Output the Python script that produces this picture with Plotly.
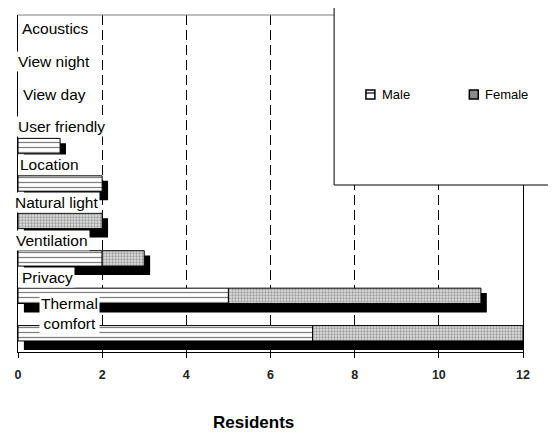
import plotly.graph_objects as go

# ---- data ----
categories = ["Thermal comfort", "Privacy", "Ventilation", "Natural light",
              "Location", "User friendly", "View day", "View night", "Acoustics"]
male = [7, 5, 2, 0, 2, 1, 0, 0, 0]
female = [5, 6, 1, 2, 0, 0, 0, 0, 0]
series_names = ["Male", "Female"]
x_ticks = [0, 2, 4, 6, 8, 10, 12]
axis_title = "Residents"

# ---- layout constants (page pixel coordinates; the page body has an 8px margin) ----
OFF = 8
W, H = 556 - OFF, 432 - OFF
PLOT_L, PLOT_R, PLOT_T, PLOT_B = 15, 523, 15, 352
L, T = PLOT_L - OFF, PLOT_T - OFF
R = W - (PLOT_R - OFF)
B = H - (PLOT_B - OFF)
PW, PH = PLOT_R - PLOT_L, PLOT_B - PLOT_T
FONT = "Liberation Sans, Arial, sans-serif"
BAR_W = 0.41
SH_TOP_GAP = 0.13   # shadow top sits this far below the bar top
SH_BOT_EXT = 0.24   # shadow bottom extends this far below the bar bottom
SH_DX = 0.14


def px2x(px):
    return (px - PLOT_L) / PW


def px2y(py):
    return (PLOT_B - py) / PH


pos = list(range(len(categories)))
totals = [m + f for m, f in zip(male, female)]


def nz(vals):
    return [v if v else None for v in vals]


sh_w = BAR_W - SH_TOP_GAP + SH_BOT_EXT
fig = go.Figure()
fig.add_trace(go.Bar(
    y=pos, x=nz(totals), base=SH_DX, orientation="h", width=sh_w,
    offset=-BAR_W / 2 - SH_BOT_EXT, marker=dict(color="black", line=dict(width=0)),
    showlegend=False, hoverinfo="skip", cliponaxis=False))
fig.add_trace(go.Bar(
    y=pos, x=nz(male), base=0, orientation="h", width=BAR_W, name=series_names[0],
    marker=dict(color="white", line=dict(color="black", width=1),
                pattern=dict(shape="-", size=5, solidity=0.25,
                             fgcolor="black", bgcolor="white")),
    showlegend=False, cliponaxis=False))
fig.add_trace(go.Bar(
    y=pos, x=nz(female), base=male, orientation="h", width=BAR_W, name=series_names[1],
    marker=dict(color="#d0d0d0", line=dict(color="black", width=1),
                pattern=dict(shape=".", size=3, solidity=0.45,
                             fgcolor="#555555", bgcolor="#dedede")),
    showlegend=False, cliponaxis=False))

# category labels (text placed above each bar, as in the reference)
label_y = [0.54, 1.503, 2.49, 3.506, 4.495, 5.51, 6.364, 7.246, 8.127]
label_left = [38, 19, 13, 12, 17, 15, 20, 15, 19]
annotations = []
for cat, ly, lx in zip(categories, label_y, label_left):
    txt = cat.replace(" ", "<br>") if cat == "Thermal comfort" else cat
    annotations.append(dict(
        text=txt, xref="paper", x=0, xshift=lx - PLOT_L - 2, xanchor="left",
        yref="y", y=ly, yanchor="middle", showarrow=False,
        bgcolor="white", borderpad=1,
        font=dict(family=FONT, size=15.5, color="black")))

# axis title
annotations.append(dict(
    text=axis_title, xref="paper", yref="paper", x=px2x(252), y=px2y(422),
    xanchor="center", yanchor="middle", showarrow=False,
    font=dict(family=FONT, size=17, color="black", weight="bold")))

shapes = [
    dict(type="line", xref="paper", yref="paper", x0=0, x1=1, y0=1, y1=1,
         line=dict(color="#7f7f7f", width=1)),
    dict(type="rect", xref="paper", yref="paper", x0=px2x(333), x1=px2x(600),
         y0=px2y(185), y1=px2y(7), line=dict(color="black", width=1),
         fillcolor="white", layer="above"),
]

# manual legend
icon_left = [365, 469]
text_left = [379, 483]
icon_fill = ["white", "#8c8c8c"]
for name, il, tl, fc in zip(series_names, icon_left, text_left, icon_fill):
    shapes.append(dict(type="rect", xref="paper", yref="paper",
                       x0=px2x(il), x1=px2x(il + 9), y0=px2y(99), y1=px2y(90),
                       line=dict(color="black", width=1.5), fillcolor=fc, layer="above"))
    annotations.append(dict(
        text=name, xref="paper", yref="paper", x=px2x(tl), y=px2y(94.5),
        xanchor="left", yanchor="middle", showarrow=False,
        font=dict(family=FONT, size=13, color="black")))
shapes.append(dict(type="line", xref="paper", yref="paper",
                   x0=px2x(365), x1=px2x(374), y0=px2y(93), y1=px2y(93),
                   line=dict(color="black", width=1.2), layer="above"))

fig.update_layout(
    width=W, height=H, margin=dict(l=L, r=R, t=T, b=B),
    paper_bgcolor="white", plot_bgcolor="white",
    barmode="overlay", showlegend=False,
    annotations=annotations, shapes=shapes,
    xaxis=dict(range=[0, 12], tickvals=x_ticks, showgrid=True, gridcolor="black",
               griddash="10px,5px", gridwidth=1, zeroline=False,
               showline=True, linecolor="black", linewidth=1,
               ticks="outside", ticklen=5, tickcolor="black",
               ticklabelstandoff=6,
               tickfont=dict(family=FONT, size=12.5, color="#222", weight="bold")),
    yaxis=dict(range=[-0.5, 8.5], showticklabels=False, showgrid=False,
               zeroline=False, showline=True, linecolor="black", linewidth=1,
               mirror=True, ticks=""),
)

fig.write_html("out.html")
